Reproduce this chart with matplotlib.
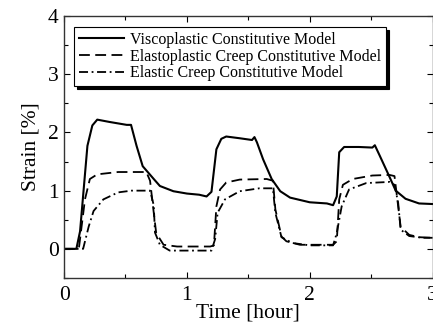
import numpy as np
import matplotlib.pyplot as plt
from matplotlib.ticker import MultipleLocator

plt.rcParams['font.family'] = ['Liberation Serif', 'DejaVu Serif']

# viscoplastic constitutive model (solid)
t_visco = [0.0, 0.1, 0.13, 0.19, 0.23, 0.27, 0.37, 0.51, 0.545, 0.59, 0.64, 0.73, 0.78,
           0.89, 1.0, 1.1, 1.16, 1.2, 1.24, 1.28, 1.32, 1.43, 1.53, 1.55, 1.57, 1.62,
           1.69, 1.76, 1.84, 2.0, 2.14, 2.19, 2.22, 2.24, 2.28, 2.4, 2.51, 2.53, 2.57,
           2.64, 2.7, 2.78, 2.89, 3.0]
s_visco = [0.0, 0.0, 0.3, 1.77, 2.12, 2.22, 2.18, 2.13, 2.13, 1.77, 1.42, 1.2, 1.08,
           0.99, 0.95, 0.93, 0.9, 0.98, 1.71, 1.89, 1.93, 1.9, 1.87, 1.92, 1.83, 1.54,
           1.2, 0.99, 0.88, 0.8, 0.78, 0.75, 0.9, 1.66, 1.75, 1.75, 1.74, 1.78, 1.6,
           1.28, 1.0, 0.86, 0.78, 0.77]

# elastoplastic creep constitutive model (dashed)
t_elpl = [0.0, 0.12, 0.17, 0.21, 0.27, 0.44, 0.67, 0.7, 0.73, 0.75, 0.81, 0.92, 1.19,
          1.22, 1.24, 1.27, 1.32, 1.43, 1.65, 1.7, 1.72, 1.77, 1.81, 1.92, 2.19, 2.22,
          2.24, 2.27, 2.35, 2.51, 2.65, 2.69, 2.72, 2.74, 2.81, 2.89, 3.0]
s_elpl = [0.0, 0.0, 0.85, 1.2, 1.28, 1.32, 1.32, 1.17, 0.62, 0.27, 0.07, 0.04, 0.04,
          0.06, 0.73, 1.02, 1.14, 1.19, 1.2, 1.17, 0.68, 0.21, 0.13, 0.07, 0.07, 0.13,
          0.85, 1.1, 1.2, 1.26, 1.27, 1.25, 0.73, 0.38, 0.24, 0.2, 0.19]

# elastic creep constitutive model (dash-dot)
t_el = [0.0, 0.155, 0.2, 0.24, 0.32, 0.44, 0.55, 0.7, 0.73, 0.74, 0.78, 0.86, 1.0, 1.2,
        1.23, 1.25, 1.31, 1.43, 1.59, 1.7, 1.72, 1.77, 1.86, 2.0, 2.19, 2.22, 2.26,
        2.32, 2.46, 2.65, 2.69, 2.72, 2.74, 2.81, 2.92, 3.0]
s_el = [0.0, 0.0, 0.38, 0.65, 0.85, 0.97, 1.0, 1.0, 0.75, 0.28, 0.07, -0.03, -0.03,
        -0.03, 0.17, 0.62, 0.85, 0.99, 1.04, 1.04, 0.62, 0.2, 0.1, 0.06, 0.06, 0.27,
        0.73, 1.02, 1.13, 1.15, 1.1, 0.79, 0.33, 0.22, 0.19, 0.19]

fig = plt.figure(figsize=(4.33, 3.27), dpi=100)
ax = fig.add_axes([0.148, 0.150, 0.851, 0.801])

ax.plot(t_visco, s_visco, color='k', lw=1.5, ls='-',
        label='Viscoplastic Constitutive Model')
ax.plot(t_elpl, s_elpl, color='k', lw=1.3, ls=(0, (6, 3)),
        label='Elastoplastic Creep Constitutive Model')
ax.plot(t_el, s_el, color='k', lw=1.3, ls=(0, (5, 2, 1, 2)),
        label='Elastic Creep Constitutive Model')

ax.set_xlim(0, 3)
ax.set_ylim(-0.5, 4)
ax.xaxis.set_major_locator(MultipleLocator(1))
ax.xaxis.set_minor_locator(MultipleLocator(0.5))
ax.yaxis.set_major_locator(MultipleLocator(1))
ax.yaxis.set_minor_locator(MultipleLocator(0.5))
ax.tick_params(which='both', direction='in', top=True, right=True, labelsize=15.5,
               width=0.8)
ax.tick_params(axis='x', which='both', pad=6)
ax.tick_params(axis='y', which='both', pad=4)
ax.tick_params(which='major', length=4)
ax.tick_params(which='minor', length=3)
for sp in ax.spines.values():
    sp.set_linewidth(1.0)
    sp.set_color('#333333')

ax.set_xlabel('Time [hour]', fontsize=15.5, labelpad=-1)
ax.set_ylabel('Strain [%]', fontsize=15.5, labelpad=5)

leg = ax.legend(loc='upper left', bbox_to_anchor=(0.027, 0.958), borderaxespad=0,
                fontsize=11.5, fancybox=False, edgecolor='k', framealpha=1,
                shadow={'color': 'k', 'alpha': 1}, handlelength=2.8, handletextpad=0.4,
                labelspacing=0.05, borderpad=0.3)
leg.get_frame().set_linewidth(0.8)

fig.savefig('out.png', dpi=100)
